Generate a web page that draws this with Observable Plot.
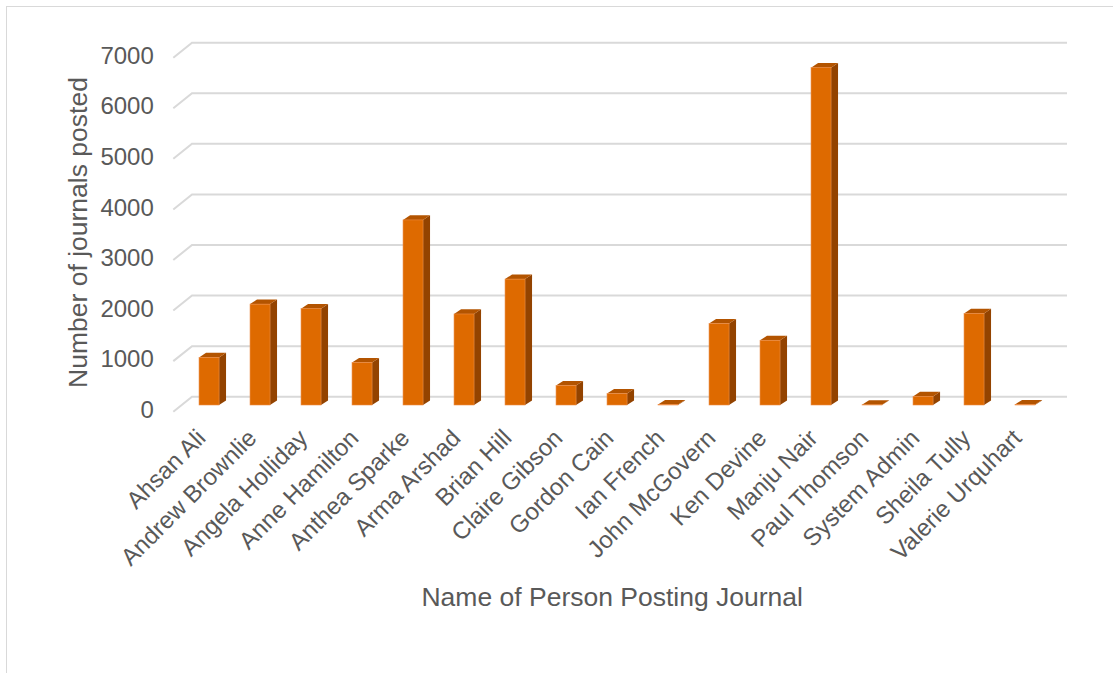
<!DOCTYPE html>
<html>
<head>
<meta charset="utf-8">
<script src="https://cdn.jsdelivr.net/npm/d3@7"></script>
<script src="https://cdn.jsdelivr.net/npm/@observablehq/plot@0.6"></script>
<style>
  html, body { margin: 0; padding: 0; background: #fff; overflow: hidden; }
  #wrap { position: relative; width: 1113px; height: 673px; }
  #border { position: absolute; left: 6px; top: 6px; width: 1300px; height: 900px; border: 1.5px solid #d9d9d9; pointer-events: none; }
  #chart { position: absolute; left: 0; top: 0; }
</style>
</head>
<body>
<div id="wrap"><div id="chart"></div><div id="border"></div></div>
<script>
const names = ["Ahsan Ali","Andrew Brownlie","Angela Holliday","Anne Hamilton","Anthea Sparke","Arma Arshad","Brian Hill","Claire Gibson","Gordon Cain","Ian French","John McGovern","Ken Devine","Manju Nair","Paul Thomson","System Admin","Sheila Tully","Valerie Urquhart"];
const values = [940, 1995, 1905, 840, 3660, 1800, 2490, 385, 225, 10, 1610, 1280, 6670, 5, 170, 1810, 10];
const yTicks = [0, 1000, 2000, 3000, 4000, 5000, 6000, 7000];
const xTitle = "Name of Person Posting Journal";
const yTitle = "Number of journals posted";

const data = names.map((n, i) => ({name: n, value: values[i]}));

const FRONT = "#DE6A00", SIDE = "#934300", TOP = "#B35400";
const GRID = "#d9d9d9", TEXT = "#595959";
// 3D depth offsets (styling)
const WALL_DX = 18.7, WALL_DY = 15;    // front floor edge -> back wall
const BAR_DX = -12.7, BAR_DY = 8.3;    // back wall -> bar front face
const DEPTH_X = 7, DEPTH_Y = 4.6;      // bar depth
const BAR_W = 20;

const font = "'Liberation Sans', Arial, sans-serif";

const chart = Plot.plot({
  width: 1113,
  height: 673,
  marginLeft: 192,
  marginRight: 46,
  marginTop: 42.7,
  marginBottom: 276.3,
  style: {fontFamily: font, background: "transparent", overflow: "visible"},
  x: {domain: names, padding: 0, axis: null},
  y: {domain: [0, 7000], axis: null},
  marks: [
    Plot.ruleY(yTicks, {
      stroke: GRID, strokeWidth: 2,
      render: (index, scales, vals, dims) => {
        const g = d3.create("svg:g");
        const xl = dims.marginLeft, xr = dims.width - dims.marginRight;
        for (const i of index) {
          const y = vals.y[i];
          g.append("path")
            .attr("d", `M${xl - WALL_DX},${y + WALL_DY}L${xl},${y}L${xr},${y}`)
            .attr("fill", "none").attr("stroke", GRID).attr("stroke-width", 2);
        }
        return g.node();
      }
    }),
    Plot.axisY(yTicks, {tickSize: 0, tickPadding: 38.7, fontSize: 24, color: TEXT, dy: 13, label: null, tickFormat: d => String(d)}),
    Plot.barY(data, {
      x: "name", y: "value", fill: FRONT,
      render: (index, scales, vals, dims) => {
        const g = d3.create("svg:g");
        const bw = (dims.width - dims.marginLeft - dims.marginRight) / names.length;
        for (const i of index) {
          const cx = vals.x[i] + bw / 2 + BAR_DX;
          const x0 = cx - BAR_W / 2, x1 = cx + BAR_W / 2;
          const yb = Math.max(vals.y1[i], vals.y2[i]) + BAR_DY;
          const yt = Math.min(vals.y1[i], vals.y2[i]) + BAR_DY;
          g.append("path")
            .attr("d", `M${x1},${yt}L${x1 + DEPTH_X},${yt - DEPTH_Y}L${x1 + DEPTH_X},${yb - DEPTH_Y}L${x1},${yb}Z`)
            .attr("fill", SIDE);
          g.append("path")
            .attr("d", `M${x0},${yt}L${x0 + DEPTH_X},${yt - DEPTH_Y}L${x1 + DEPTH_X},${yt - DEPTH_Y}L${x1},${yt}Z`)
            .attr("fill", TOP);
          g.append("rect")
            .attr("x", x0).attr("y", yt).attr("width", BAR_W).attr("height", Math.max(0, yb - yt))
            .attr("fill", FRONT).attr("stroke", "#ED8C45").attr("stroke-width", 0.6);
        }
        return g.node();
      }
    }),
    Plot.text(names, {
      x: d => d, frameAnchor: "bottom", rotate: -45,
      textAnchor: "end", lineAnchor: "top",
      dx: -27, dy: 30.3, fontSize: 24, fill: TEXT
    }),
    Plot.text([xTitle], {frameAnchor: "bottom", dx: -17.8, dy: 200, fontSize: 26.5, fill: TEXT, lineAnchor: "middle"}),
    Plot.text([yTitle], {frameAnchor: "left", rotate: -90, textAnchor: "middle", dx: -114.3, dy: 12.3, fontSize: 26.5, fill: TEXT, lineAnchor: "middle"})
  ]
});
document.getElementById("chart").appendChild(chart);
</script>
</body>
</html>
